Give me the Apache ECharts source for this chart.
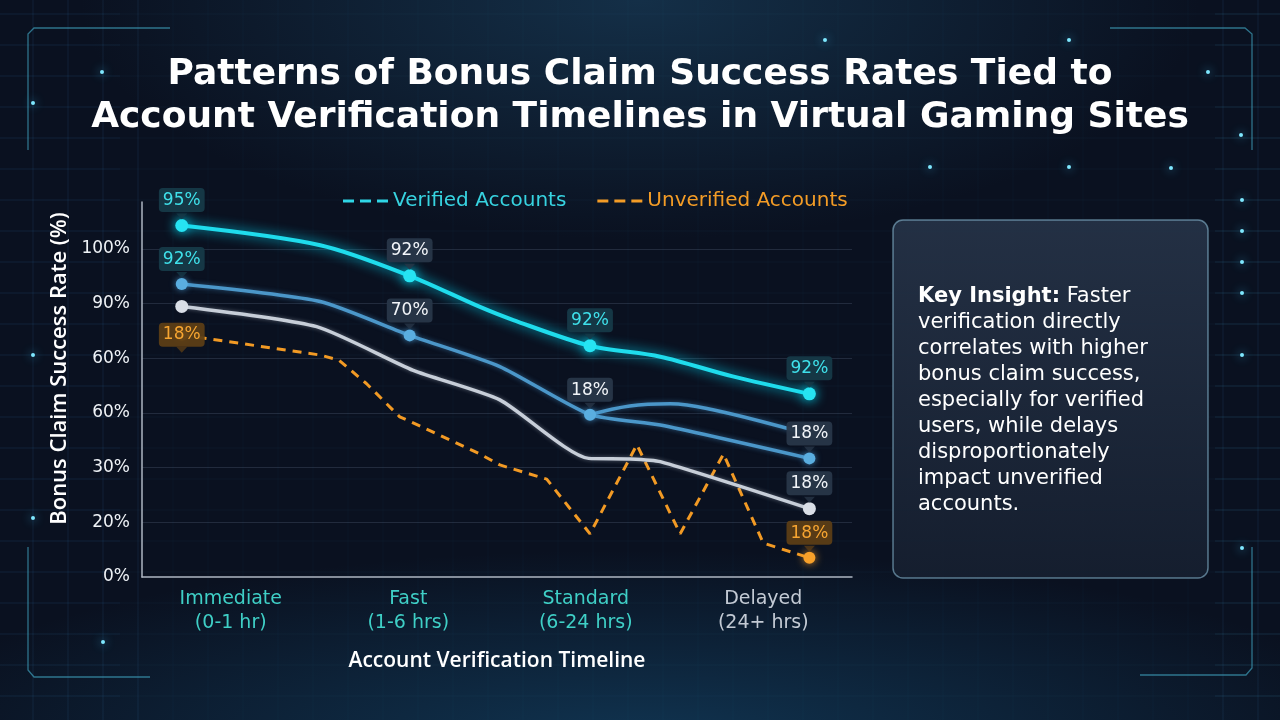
<!DOCTYPE html>
<html>
<head>
<meta charset="utf-8">
<script src="https://cdn.jsdelivr.net/npm/echarts@6/dist/echarts.min.js"></script>
<style>
  html, body { margin: 0; padding: 0; width: 1280px; height: 720px; overflow: hidden;
    background:
      radial-gradient(ellipse 560px 240px at 640px 0px, rgba(28,72,104,0.55), rgba(0,0,0,0) 100%),
      radial-gradient(ellipse 760px 190px at 640px 740px, rgba(22,86,128,0.5), rgba(0,0,0,0) 100%),
      #0a1120; }
  #main { width: 1280px; height: 720px; }
</style>
</head>
<body>
<div id="main"></div>
<script>
  // x positions are on a 0-100 timeline track, y values are in grid steps (one step per tick label)
  var categories = ['Immediate\n(0-1 hr)', 'Fast\n(1-6 hrs)', 'Standard\n(6-24 hrs)', 'Delayed\n(24+ hrs)'];
  var yTickLabels = ['0%', '20%', '30%', '60%', '60%', '90%', '100%'];

  var verifiedPos    = [5.6, 25.1, 37.7, 47.6, 52.3, 63.1, 73.0, 83.2, 94.0];
  var verifiedRate   = [6.43, 6.07, 5.51, 4.94, 4.70, 4.23, 4.03, 3.67, 3.35];
  var verifiedLabels = ['95%', '', '92%', '', '', '92%', '', '', '92%'];
  var verifiedMarks  = [0, 2, 5, 8];

  var tierPos    = [5.6, 25.1, 37.7, 50.4, 63.1, 73.0, 94.0];
  var tierRate   = [5.36, 5.04, 4.42, 3.85, 2.97, 2.78, 2.17];
  var tierLabels = ['92%', '', '70%', '', '18%', '', '18%'];
  var tierMarks  = [0, 2, 4, 6];
  var tierBranchPos  = [63.1, 68.7, 74.4, 80.4, 91.7, 94.0];
  var tierBranchRate = [2.97, 3.13, 3.17, 3.06, 2.69, 2.58];

  var basePos    = [5.6, 24.6, 38.2, 50.4, 62.9, 68.7, 73.0, 94.0];
  var baseRate   = [4.95, 4.58, 3.78, 3.24, 2.17, 2.16, 2.11, 1.25];
  var baseLabels = ['', '', '', '', '', '', '', '18%'];
  var baseMarks  = [0, 7];

  var unverifiedPos    = [5.6, 25.1, 27.7, 31.6, 36.3, 37.7, 47.6, 50.4, 57.0, 63.1, 69.7, 75.8, 81.9, 87.5, 94.0];
  var unverifiedRate   = [4.43, 4.06, 3.97, 3.54, 2.93, 2.85, 2.25, 2.05, 1.79, 0.79, 2.42, 0.79, 2.25, 0.62, 0.35];
  var unverifiedLabels = ['18%', '', '', '', '', '', '', '', '', '', '', '', '', '', '18%'];
  var unverifiedMarks  = [0, 14];

  var FONT = 'DejaVu Sans';
  var FONT2 = 'Open Sans';
  var tones = {
    cyan:   { color: '#3fe0ea', bg: 'rgba(22,58,72,0.95)' },
    white:  { color: '#f2f5f9', bg: 'rgba(40,54,72,0.96)' },
    orange: { color: '#f7a531', bg: 'rgba(92,62,22,0.95)' }
  };
  // which label tone goes with which point
  var verifiedTones   = { 0: 'cyan', 2: 'white', 5: 'cyan', 8: 'cyan' };
  var tierTones       = { 0: 'cyan', 2: 'white', 4: 'white', 6: 'white' };
  var baseTones       = { 7: 'white' };
  var unverifiedTones = { 0: 'orange', 14: 'orange' };

  function makeData(pos, rate, labels, toneMap, inside) {
    return pos.map(function (x, i) {
      var item = { value: [x, rate[i]] };
      if (labels[i]) {
        var t = tones[toneMap[i]];
        item.label = { show: true, formatter: labels[i], color: t.color, backgroundColor: t.bg };
        if (inside && inside.indexOf(i) >= 0) item.label.position = 'inside';
      }
      return item;
    });
  }

  function pointerData(pos, rate, labels, toneMap, inside) {
    var out = [];
    pos.forEach(function (x, i) {
      if (!labels[i]) return;
      var below = inside && inside.indexOf(i) >= 0;
      out.push({
        value: [x, rate[i]],
        symbolOffset: below ? [0, 15] : [0, -9],
        itemStyle: { color: tones[toneMap[i]].bg }
      });
    });
    return out;
  }

  function sizeFn(marks, size) {
    return function (v, p) { return marks.indexOf(p.dataIndex) >= 0 ? size : 0; };
  }

  var labelBase = {
    show: false, position: 'top', distance: 7, fontFamily: FONT, fontSize: 17,
    lineHeight: 19, padding: [3, 4, 2, 4], borderRadius: 4
  };

  var dashIcon = 'path://M0,0H11V3H0Z M17,0H28V3H17Z M34,0H45V3H34Z';

  // background decoration: faint grid, glow dots, corner brackets
  var deco = [];
  for (var gx = 33; gx < 1280; gx += 35) {
    var edge = gx < 140 || gx > 1215;
    deco.push({ type: 'line', silent: true, z: -10, shape: { x1: gx, y1: 0, x2: gx, y2: 720 },
      style: { stroke: edge ? 'rgba(70,150,200,0.13)' : 'rgba(70,150,200,0.04)', lineWidth: 1 } });
  }
  for (var gy = 14; gy < 720; gy += 31) {
    deco.push({ type: 'line', silent: true, z: -10, shape: { x1: 0, y1: gy, x2: 1280, y2: gy },
      style: { stroke: 'rgba(70,150,200,0.05)', lineWidth: 1 } });
    deco.push({ type: 'line', silent: true, z: -10, shape: { x1: 1215, y1: gy, x2: 1280, y2: gy },
      style: { stroke: 'rgba(70,170,220,0.14)', lineWidth: 1 } });
    deco.push({ type: 'line', silent: true, z: -10, shape: { x1: 0, y1: gy, x2: 120, y2: gy },
      style: { stroke: 'rgba(70,170,220,0.09)', lineWidth: 1 } });
  }
  var glowDots = [[1242, 200], [1242, 231], [1242, 262], [1242, 293], [1242, 355], [1242, 548],
    [33, 355], [33, 518], [103, 642], [102, 72], [33, 103], [825, 40], [1069, 40], [1208, 72],
    [1241, 135], [930, 167], [1069, 167], [1171, 168]];
  glowDots.forEach(function (d) {
    deco.push({ type: 'circle', silent: true, z: -9, shape: { cx: d[0], cy: d[1], r: 2 },
      style: { fill: '#7fe8ff', shadowBlur: 10, shadowColor: 'rgba(60,210,255,0.95)' } });
  });
  var brackets = [
    [[28, 150], [28, 34], [34, 28], [170, 28]],
    [[1110, 28], [1245, 28], [1252, 34], [1252, 150]],
    [[28, 547], [28, 670], [34, 677], [150, 677]],
    [[1140, 675], [1246, 675], [1252, 668], [1252, 547]]
  ];
  brackets.forEach(function (pts) {
    deco.push({ type: 'polyline', silent: true, z: -9, shape: { points: pts },
      style: { stroke: 'rgba(70,180,210,0.6)', lineWidth: 1.3, fill: null } });
  });

  deco.push({
    type: 'rect', silent: true, z: 5,
    shape: { x: 893, y: 220, width: 315, height: 358, r: 10 },
    style: {
      fill: { type: 'linear', x: 0, y: 0, x2: 0, y2: 1, colorStops: [
        { offset: 0, color: 'rgba(38,52,72,0.9)' }, { offset: 1, color: 'rgba(22,32,48,0.9)' }] },
      stroke: 'rgba(150,200,225,0.55)', lineWidth: 1.5
    }
  });
  deco.push({
    type: 'text', silent: true, z: 6, left: 918, top: 284,
    style: {
      text: '{b|Key Insight:} Faster\nverification directly\ncorrelates with higher\nbonus claim success,\n' +
            'especially for verified\nusers, while delays\ndisproportionately\nimpact unverified\naccounts.',
      fill: '#ffffff', fontFamily: FONT, fontSize: 21, lineHeight: 26,
      rich: { b: { fontFamily: FONT, fontSize: 21, fontWeight: 'bold', fill: '#ffffff', lineHeight: 26 } }
    }
  });

  var chart = echarts.init(document.getElementById('main'), null, { renderer: 'canvas' });
  var option = {
    animation: false,
    backgroundColor: 'transparent',
    title: {
      text: 'Patterns of Bonus Claim Success Rates Tied to\nAccount Verification Timelines in Virtual Gaming Sites',
      left: 'center', top: 53, padding: 0,
      textStyle: { color: '#ffffff', fontFamily: FONT, fontSize: 36, fontWeight: 700, lineHeight: 43 }
    },
    legend: {
      left: 338, top: 186, itemWidth: 45, itemHeight: 3, itemGap: 31, selectedMode: false,
      textStyle: { fontFamily: FONT, fontSize: 20 },
      data: [
        { name: 'Verified Accounts', icon: dashIcon, itemStyle: { color: '#2fd6e6', borderWidth: 0 }, textStyle: { color: '#37d3e0' } },
        { name: 'Unverified Accounts', icon: dashIcon, itemStyle: { color: '#f39c26', borderWidth: 0 }, textStyle: { color: '#f39c26' } }
      ]
    },
    grid: { left: 142, right: 428, top: 202, bottom: 143, containLabel: false },
    xAxis: [
      {
        type: 'category', data: categories, boundaryGap: true,
        axisLine: { lineStyle: { color: '#aeb6c2', width: 1.5 } },
        axisTick: { show: false },
        axisLabel: {
          margin: 10, fontFamily: FONT, fontSize: 19, lineHeight: 24,
          color: function (v, i) { return i === 3 ? '#c3cad4' : '#3fcfc6'; }
        },
        name: 'Account Verification Timeline', nameLocation: 'middle', nameGap: 74,
        nameTextStyle: { color: '#ffffff', fontFamily: FONT2, fontSize: 21, fontWeight: 600 }
      },
      { type: 'value', min: 0, max: 100, show: false }
    ],
    yAxis: {
      type: 'value', min: 0, max: 6.86, interval: 1,
      axisLine: { show: true, lineStyle: { color: '#aeb6c2', width: 1.5 } },
      axisTick: { show: false },
      axisLabel: {
        margin: 12, fontFamily: FONT, fontSize: 17, color: '#eef2f6', showMaxLabel: false,
        formatter: function (v) {
          var r = Math.round(v);
          return Math.abs(v - r) < 1e-6 ? yTickLabels[r] : '';
        }
      },
      splitLine: { show: true, showMinLine: false, showMaxLine: false, lineStyle: { color: 'rgba(130,150,180,0.2)', width: 1 } },
      name: 'Bonus Claim Success Rate (%)', nameLocation: 'middle', nameGap: 67,
      nameTextStyle: { color: '#ffffff', fontFamily: FONT2, fontSize: 22, fontWeight: 600, padding: [0, 0, 0, 42] }
    },
    graphic: deco,
    series: [
      {
        name: 'Unverified Accounts', type: 'line', xAxisIndex: 1, z: 2,
        data: makeData(unverifiedPos, unverifiedRate, unverifiedLabels, unverifiedTones, [0]),
        symbol: 'circle', symbolSize: sizeFn(unverifiedMarks, 12), showAllSymbol: true,
        itemStyle: { color: '#f7a02a', shadowBlur: 8, shadowColor: 'rgba(255,160,40,0.8)' },
        lineStyle: { color: '#f29a24', width: 3, type: [9, 7] },
        label: labelBase, emphasis: { disabled: true }
      },
      {
        name: 'Baseline', type: 'line', xAxisIndex: 1, z: 3, smooth: 0.2,
        data: makeData(basePos, baseRate, baseLabels, baseTones),
        symbol: 'circle', symbolSize: sizeFn(baseMarks, 13), showAllSymbol: true,
        itemStyle: { color: '#d9dee6' },
        lineStyle: { color: '#c7ced8', width: 3.5, shadowBlur: 4, shadowColor: 'rgba(200,210,225,0.4)' },
        label: labelBase, emphasis: { disabled: true }
      },
      {
        name: 'Tier branch', type: 'line', xAxisIndex: 1, z: 3, smooth: 0.4, symbol: 'none',
        data: tierBranchPos.map(function (x, i) { return [x, tierBranchRate[i]]; }),
        lineStyle: { color: '#4b97c9', width: 3.5, shadowBlur: 5, shadowColor: 'rgba(75,160,220,0.5)' },
        emphasis: { disabled: true }
      },
      {
        name: 'Tier', type: 'line', xAxisIndex: 1, z: 4, smooth: 0.2,
        data: makeData(tierPos, tierRate, tierLabels, tierTones),
        symbol: 'circle', symbolSize: sizeFn(tierMarks, 12), showAllSymbol: true,
        itemStyle: { color: '#5aaee0', shadowBlur: 6, shadowColor: 'rgba(80,170,230,0.7)' },
        lineStyle: { color: '#4b97c9', width: 3.5, shadowBlur: 5, shadowColor: 'rgba(75,160,220,0.5)' },
        label: labelBase, emphasis: { disabled: true }
      },
      {
        name: 'Verified Accounts', type: 'line', xAxisIndex: 1, z: 5, smooth: 0.3,
        data: makeData(verifiedPos, verifiedRate, verifiedLabels, verifiedTones),
        symbol: 'circle', symbolSize: sizeFn(verifiedMarks, 13), showAllSymbol: true,
        itemStyle: { color: '#26e4f2', shadowBlur: 12, shadowColor: 'rgba(0,230,255,0.95)' },
        lineStyle: { color: '#1fdcec', width: 4, shadowBlur: 12, shadowColor: 'rgba(0,225,255,0.9)' },
        label: labelBase, emphasis: { disabled: true }
      },
      {
        name: 'pointers', type: 'scatter', xAxisIndex: 1, z: 6, silent: true,
        symbol: 'path://M0,0L10,0L5,6Z', symbolSize: [11, 6],
        data: [].concat(
          pointerData(unverifiedPos, unverifiedRate, unverifiedLabels, unverifiedTones, [0]),
          pointerData(basePos, baseRate, baseLabels, baseTones),
          pointerData(tierPos, tierRate, tierLabels, tierTones),
          pointerData(verifiedPos, verifiedRate, verifiedLabels, verifiedTones)
        )
      }
    ]
  };
  chart.setOption(option);
</script>
</body>
</html>
